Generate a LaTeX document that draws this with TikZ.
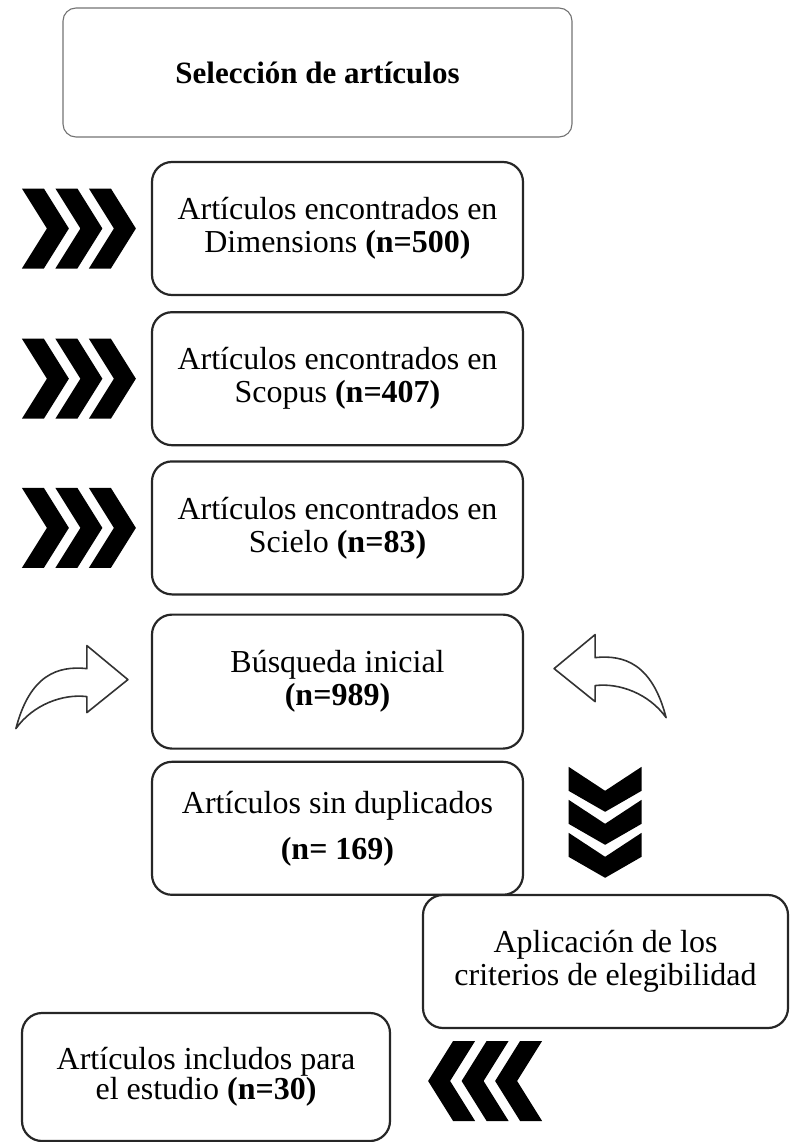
\documentclass[tikz,border=0pt]{standalone}
\usepackage{fontspec}
\setmainfont{Liberation Serif}
\usetikzlibrary{positioning}
\tikzset{titlebox/.style={rectangle,rounded corners=13pt,draw=black!55,line width=1.1pt,minimum width=509pt,minimum height=129pt,font=\bfseries\fontsize{31}{36}\selectfont}}
\tikzset{srcbox/.style={rectangle,rounded corners=20pt,draw=black!85,line width=2.2pt,minimum width=371pt,minimum height=133pt,align=center,font=\fontsize{32}{33}\selectfont}}
\tikzset{chevR/.pic={\foreach \d in {0,-33.5,-67} \fill[shift={(\d,0)}] (-47,40) -- (-25,40) -- (0,0) -- (-25,-40) -- (-47,-40) -- (-22,0) -- cycle;}}
\tikzset{chevD/.pic={\foreach \d in {0,33,66} \fill[shift={(0,\d)}] (-36.5,45) -- (0,21) -- (36.5,45) -- (36.5,21) -- (0,0) -- (-36.5,21) -- cycle;}}
\tikzset{bentArrow/.pic={\filldraw[draw=black!80,fill=white,line width=1.6pt,line join=round] (-112,-49) .. controls (-98,5) and (-70,14) .. (-41,11) -- (-41,34) -- (0,0) -- (-41,-33) -- (-41,-17) .. controls (-65,-14) and (-95,-25) .. (-112,-49) -- cycle;}}
\begin{document}
\begin{tikzpicture}[x=1pt,y=1pt]
\useasboundingbox (0,0) rectangle (789,-1142);
	\node (title) [titlebox] at (317.5,-72.5) {Selección de artículos};
	\node (dim) [srcbox] at (337.5,-228.5) {Artículos encontrados en\\Dimensions \textbf{(n=500)}};
	\node (scop) [srcbox, below=15pt of dim] {Artículos encontrados en\\Scopus \textbf{(n=407)}};
	\node (sciel) [srcbox, below=14pt of scop] {Artículos encontrados en\\Scielo \textbf{(n=83)}};
	\node (busq) [srcbox, below=18pt of sciel, minimum height=134pt] {Búsqueda inicial\\\textbf{(n=989)}};
	\node (sindup) [srcbox, below=11pt of busq] {Artículos sin duplicados\\[13pt]\textbf{(n= 169)}};
	\node (aplic) [srcbox, minimum width=365pt] at (605.5,-961.5) {Aplicación de los\\criterios de elegibilidad};
	\node (incl) [srcbox, minimum width=368pt, minimum height=128pt] at (206,-1077) {Artículos includos para\\[-3pt]el estudio \textbf{(n=30)}};
	% chevrons and bent arrows
	\foreach \src in {dim,scop,sciel} \pic at ([xshift=-15pt]\src.west) {chevR};
	\pic at ([xshift=-23pt,yshift=2pt]busq.west) {bentArrow};
	\pic[xscale=-1] at ([xshift=30pt,yshift=13pt]busq.east) {bentArrow};
	\pic at ([xshift=81pt,yshift=-49.5pt]sindup.east) {chevD};
	\pic[xscale=-1] at ([xshift=37pt,yshift=-4pt]incl.east) {chevR};
\end{tikzpicture}
\end{document}
